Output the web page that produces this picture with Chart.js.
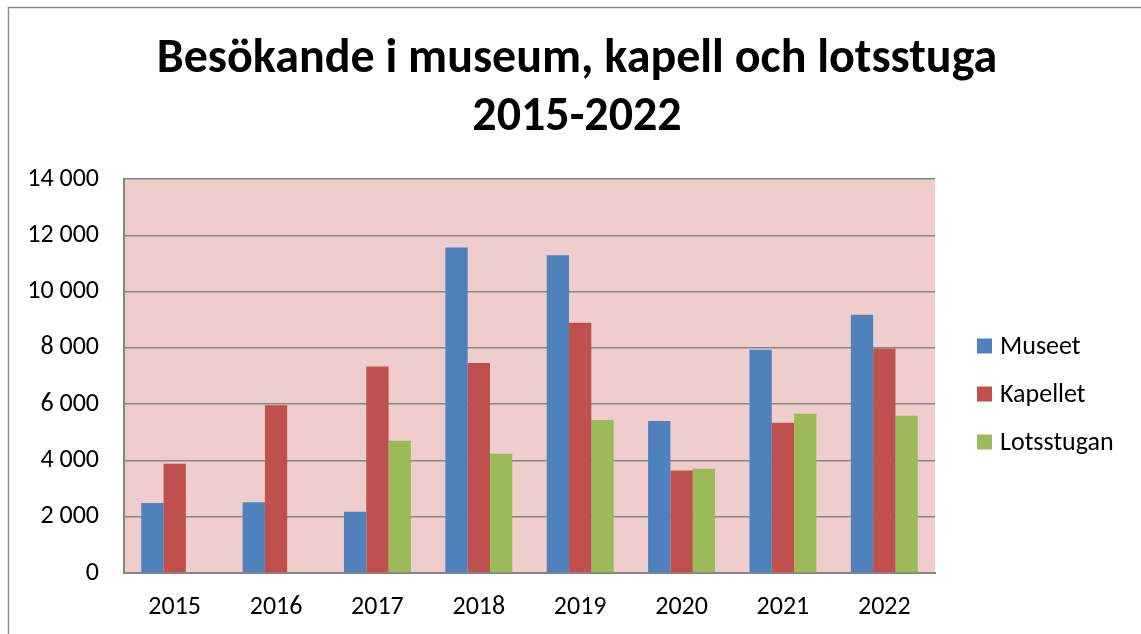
<!DOCTYPE html>
<html lang="sv">
<head>
<meta charset="utf-8">
<title>Besökande i museum, kapell och lotsstuga 2015-2022</title>
<script src="https://cdn.jsdelivr.net/npm/chart.js@4/dist/chart.umd.min.js"></script>
<style>
  html, body { margin: 0; padding: 0; background: #ffffff; }
  #wrap { position: relative; width: 1141px; height: 634px; }
</style>
</head>
<body>
<div id="wrap"><canvas id="chart" width="1141" height="634"></canvas></div>
<script>
const years = ["2015", "2016", "2017", "2018", "2019", "2020", "2021", "2022"];
const museet = [2490, 2510, 2180, 11570, 11290, 5400, 7930, 9180];
const kapellet = [3880, 5960, 7340, 7460, 8890, 3640, 5340, 7980];
const lotsstugan = [null, null, 4700, 4240, 5440, 3700, 5660, 5590];
const seriesNames = ["Museet", "Kapellet", "Lotsstugan"];
const seriesColors = ["#4F81BD", "#C0504D", "#9BBB59"];
const titleLines = ["Besökande i museum, kapell och lotsstuga", "2015-2022"];
const yMax = 14000;
const yStep = 2000;

const FONT = "'Carlito', 'Open Sans', 'Noto Sans', sans-serif";
const PLOT_BG = "#EECDCC";
const GRID = "#858585";

function formatThousands(value) {
  return String(value).replace(/\B(?=(\d{3})+(?!\d))/g, " ");
}

// pink plot area, outer frame, the centred title and the legend on the right
const decorPlugin = {
  id: "decor",
  beforeDraw(chart) {
    const { ctx, chartArea } = chart;
    ctx.save();
    ctx.fillStyle = PLOT_BG;
    ctx.fillRect(chartArea.left, chartArea.top, chartArea.right - chartArea.left, chartArea.bottom - chartArea.top);
    ctx.strokeStyle = "#8c8c8c";
    ctx.lineWidth = 1.5;
    ctx.beginPath();
    ctx.moveTo(8.5, chart.height);
    ctx.lineTo(8.5, 7.5);
    ctx.lineTo(chart.width, 7.5);
    ctx.stroke();
    ctx.restore();
  },
  afterDraw(chart) {
    const { ctx, chartArea } = chart;
    ctx.save();
    ctx.fillStyle = "#000";
    ctx.textAlign = "center";
    ctx.textBaseline = "alphabetic";
    ctx.font = `bold 48px ${FONT}`;
    titleLines.forEach((line, i) => {
      ctx.fillText(line, 577, 72 + i * 58);
    });

    const x = chartArea.right + 42;
    ctx.textAlign = "left";
    ctx.textBaseline = "middle";
    ctx.font = `26px ${FONT}`;
    chart.data.datasets.forEach((ds, i) => {
      const y = 346 + i * 48;
      ctx.fillStyle = ds.backgroundColor;
      ctx.fillRect(x, y - 7.5, 15, 15);
      ctx.fillStyle = "#000";
      ctx.fillText(ds.label, x + 23, y + 1);
    });
    ctx.restore();
  },
};

const datasets = [museet, kapellet, lotsstugan].map((values, i) => ({
  label: seriesNames[i],
  data: values,
  backgroundColor: seriesColors[i],
  borderWidth: 0,
  categoryPercentage: 0.66,
  barPercentage: 1.0,
}));

new Chart(document.getElementById("chart"), {
  type: "bar",
  data: { labels: years, datasets },
  plugins: [decorPlugin],
  options: {
    responsive: false,
    animation: false,
    layout: { padding: { top: 179, left: 20, right: 206, bottom: 0 } },
    plugins: {
      legend: { display: false },
      tooltip: { enabled: false },
      title: { display: false },
    },
    scales: {
      x: {
        grid: { display: false },
        border: { display: true, color: GRID, width: 2 },
        ticks: { color: "#000", font: { family: FONT, size: 26 }, padding: 11 },
        afterFit(scale) { scale.height = 61; },
      },
      y: {
        min: 0,
        max: yMax,
        grid: { color: GRID, lineWidth: 1.5, drawTicks: false },
        border: { display: true, color: GRID, width: 2 },
        ticks: {
          stepSize: yStep,
          color: "#000",
          font: { family: FONT, size: 26 },
          padding: 25,
          callback: (v) => formatThousands(v),
        },
        afterFit(scale) { scale.width = 104; },
      },
    },
  },
});
</script>
</body>
</html>
